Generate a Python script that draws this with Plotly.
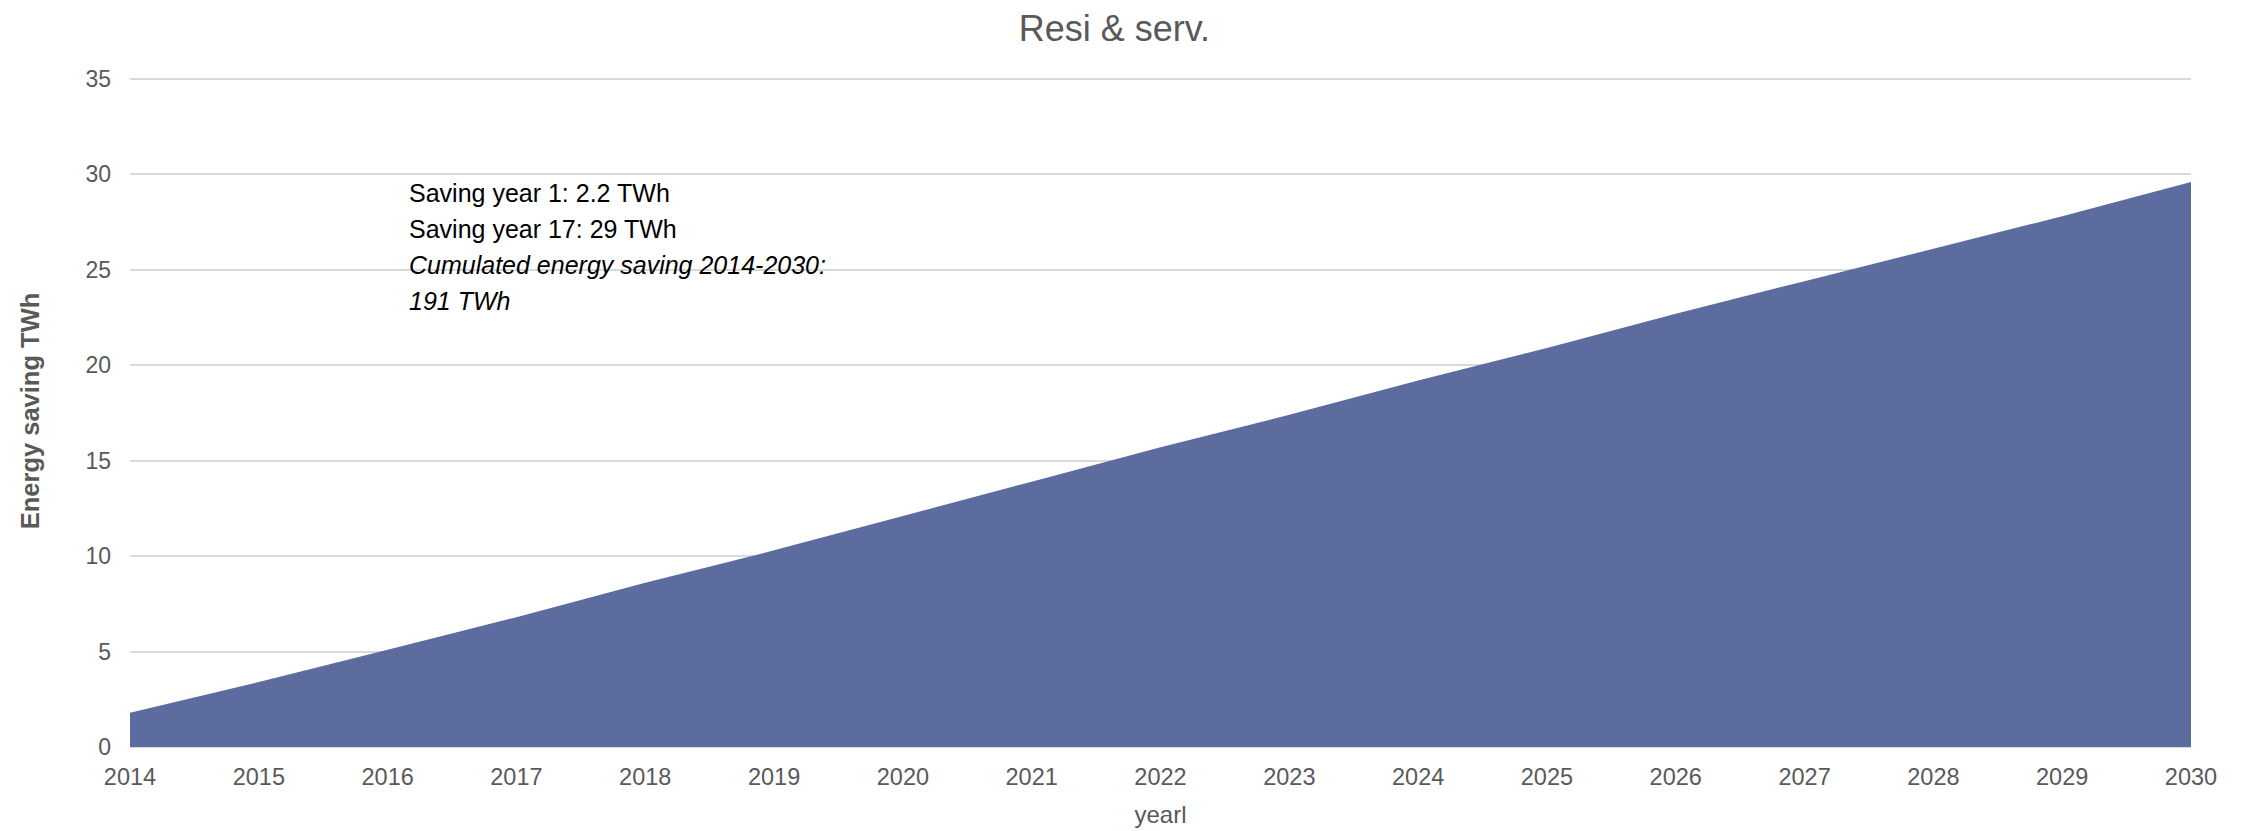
import plotly.graph_objects as go

# Annual energy saving, residential & services sector (TWh)
years = list(range(2014, 2031))
saving_twh = [1.8, 3.4, 5.1, 6.8, 8.6, 10.3, 12.1, 13.9, 15.7,
              17.4, 19.2, 20.9, 22.7, 24.4, 26.1, 27.8, 29.6]

y_ticks = [0, 5, 10, 15, 20, 25, 30, 35]

note_lines = [
    "Saving year 1: 2.2 TWh",
    "Saving year 17: 29 TWh",
    "<i>Cumulated energy saving 2014-2030:</i>",
    "<i>191 TWh</i>",
]

FONT = "Liberation Sans, Arial, sans-serif"
GREY = "#595959"
AREA = "#5D6C9F"

fig = go.Figure()
fig.add_trace(go.Scatter(
    x=years, y=saving_twh,
    mode="none", fill="tozeroy", fillcolor=AREA,
    hoverinfo="x+y", showlegend=False,
))

# text block, one annotation per line for a looser line pitch
first_line_y = 29.02
line_pitch = 1.89
for i, line in enumerate(note_lines):
    fig.add_annotation(
        x=2016.15, y=first_line_y - i * line_pitch, xref="x", yref="y",
        xanchor="left", yanchor="middle", align="left",
        text=line, showarrow=False,
        font=dict(family=FONT, size=25, color="#000000"),
    )

fig.update_layout(
    width=2249, height=831,
    margin=dict(l=130, r=58, t=75, b=84),
    paper_bgcolor="white", plot_bgcolor="white",
    font=dict(family=FONT, color=GREY),
    title=dict(
        text="Resi & serv.", xref="container", yref="container",
        x=0.4955, y=1 - 28 / 831, xanchor="center", yanchor="middle",
        font=dict(family=FONT, size=36, color=GREY),
    ),
)

fig.update_xaxes(
    range=[2014, 2030], tickvals=years, ticktext=[str(y) for y in years],
    showgrid=False, zeroline=False, showline=False, automargin=False,
    ticks="outside", ticklen=9, tickcolor="rgba(0,0,0,0)",
    tickfont=dict(family=FONT, size=23.5, color=GREY),
    title=dict(text="yearl", font=dict(family=FONT, size=24, color=GREY), standoff=16),
)

fig.update_yaxes(
    range=[0, 35.2], tickvals=y_ticks,
    showgrid=True, gridcolor="#d9d9d9", gridwidth=1.5,
    zeroline=True, zerolinecolor="#d9d9d9", zerolinewidth=2,
    showline=False, ticks="", ticklabelstandoff=18, automargin=False,
    tickfont=dict(family=FONT, size=23, color=GREY),
    title=dict(text="<b>Energy saving TWh</b>",
               font=dict(family=FONT, size=25.5, color=GREY), standoff=38),
)

fig.write_html("out.html")
